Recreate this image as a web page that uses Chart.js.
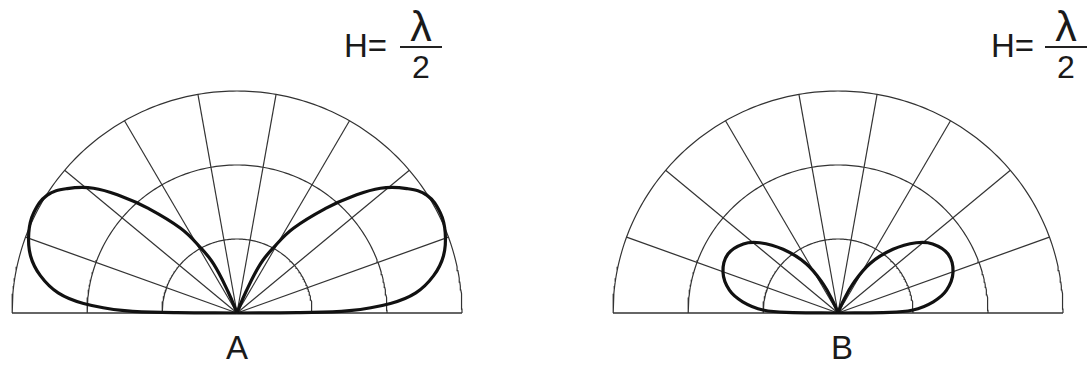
<!DOCTYPE html>
<html>
<head>
<meta charset="utf-8">
<script src="https://cdn.jsdelivr.net/npm/chart.js@4/dist/chart.umd.min.js"></script>
<style>
  body { margin: 0; background: #fff; width: 1092px; height: 372px; position: relative; overflow: hidden; }
  canvas { position: absolute; }
  .txt { position: absolute; font-family: "Liberation Sans", Arial, sans-serif; color: #1a1a1a; white-space: nowrap; }
  .bar { position: absolute; height: 1.6px; background: #222; }
</style>
</head>
<body>
<canvas id="chart-a" width="460" height="232" style="left:7px;top:86px;width:460px;height:232px"></canvas>
<canvas id="chart-b" width="460" height="232" style="left:608px;top:86px;width:460px;height:232px"></canvas>

<div class="txt" style="left:344px;top:29px;font-size:33px;line-height:33px">H=</div>
<div class="txt" style="left:400px;top:5px;width:42px;text-align:center;font-size:43px;line-height:43px">λ</div>
<div class="bar" style="left:400px;top:46px;width:42px"></div>
<div class="txt" style="left:400px;top:51px;width:42px;text-align:center;font-size:32px;line-height:32px">2</div>

<div class="txt" style="left:991px;top:29px;font-size:33px;line-height:33px">H=</div>
<div class="txt" style="left:1045px;top:5px;width:42px;text-align:center;font-size:43px;line-height:43px">λ</div>
<div class="bar" style="left:1045px;top:46px;width:42px"></div>
<div class="txt" style="left:1045px;top:51px;width:42px;text-align:center;font-size:32px;line-height:32px">2</div>

<div class="txt" style="left:207px;top:331px;width:60px;text-align:center;font-size:33px;line-height:33px">A</div>
<div class="txt" style="left:812px;top:331px;width:60px;text-align:center;font-size:33px;line-height:33px">B</div>

<script>
// grille polaire : cercles (outer = 3) et rayons en degrés
var ringRadii = [1, 2, 3];
var spokeAngles = [20, 40, 60, 80, 100, 120, 140, 160];

// lobe A (angle d'élévation en degrés, rayon en unités de cercle)
var lobeAngleA  = [0, 0.4, 1.2, 3.6, 6.5, 10.9, 15.7, 21.3, 26.5, 32.2, 36.6, 41.4, 45.7, 50, 56.7, 61, 64.8, 67.6, 69];
var lobeRadiusA = [0, 0.8, 1.5, 2.05, 2.4, 2.67, 2.86, 2.98, 3.03, 2.99, 2.82, 2.55, 2.2, 1.85, 1.37, 1.02, 0.73, 0.3, 0];

// lobe B
var lobeAngleB  = [0, 0.5, 2.3, 6.8, 12, 19.8, 28.5, 36.5, 42.3, 49.6, 57.5, 63.2, 67, 69];
var lobeRadiusB = [0, 0.6, 1.0, 1.28, 1.48, 1.63, 1.67, 1.57, 1.41, 1.13, 0.79, 0.44, 0.15, 0];

function polar(deg, r) {
  var a = deg * Math.PI / 180;
  return { x: r * Math.cos(a), y: r * Math.sin(a) };
}

function gridDatasets() {
  var ds = [];
  var style = { showLine: true, borderColor: '#333', borderWidth: 1.2, pointRadius: 0, tension: 0, clip: false };
  ringRadii.forEach(function (r) {
    var pts = [];
    for (var d = 0; d <= 180; d++) pts.push(polar(d, r));
    ds.push(Object.assign({ data: pts }, style));
  });
  spokeAngles.forEach(function (d) {
    ds.push(Object.assign({ data: [{ x: 0, y: 0 }, polar(d, ringRadii[ringRadii.length - 1])] }, style));
  });
  var rMax = ringRadii[ringRadii.length - 1];
  ds.push(Object.assign({ data: [{ x: -rMax, y: 0 }, { x: rMax, y: 0 }] }, style, { borderWidth: 1.5 }));
  return ds;
}

function lobe(angles, radii, side) {
  return {
    showLine: true,
    data: angles.map(function (d, i) {
      var p = polar(d, radii[i]);
      return { x: side * p.x, y: p.y };
    }),
    borderColor: '#111',
    borderWidth: 3.2,
    pointRadius: 0,
    tension: 0.4,
    clip: false
  };
}

function makeChart(id, angles, radii) {
  var ctx = document.getElementById(id).getContext('2d');
  return new Chart(ctx, {
    type: 'scatter',
    data: {
      datasets: [lobe(angles, radii, -1), lobe(angles, radii, 1)].concat(gridDatasets())
    },
    options: {
      responsive: false,
      animation: false,
      layout: { padding: 5 },
      plugins: {
        legend: { display: false },
        tooltip: { enabled: false }
      },
      scales: {
        x: { type: 'linear', min: -3, max: 3, display: false },
        y: { type: 'linear', min: 0, max: 3, display: false }
      }
    }
  });
}

var chartA = makeChart('chart-a', lobeAngleA, lobeRadiusA);
var chartB = makeChart('chart-b', lobeAngleB, lobeRadiusB);
</script>
</body>
</html>
